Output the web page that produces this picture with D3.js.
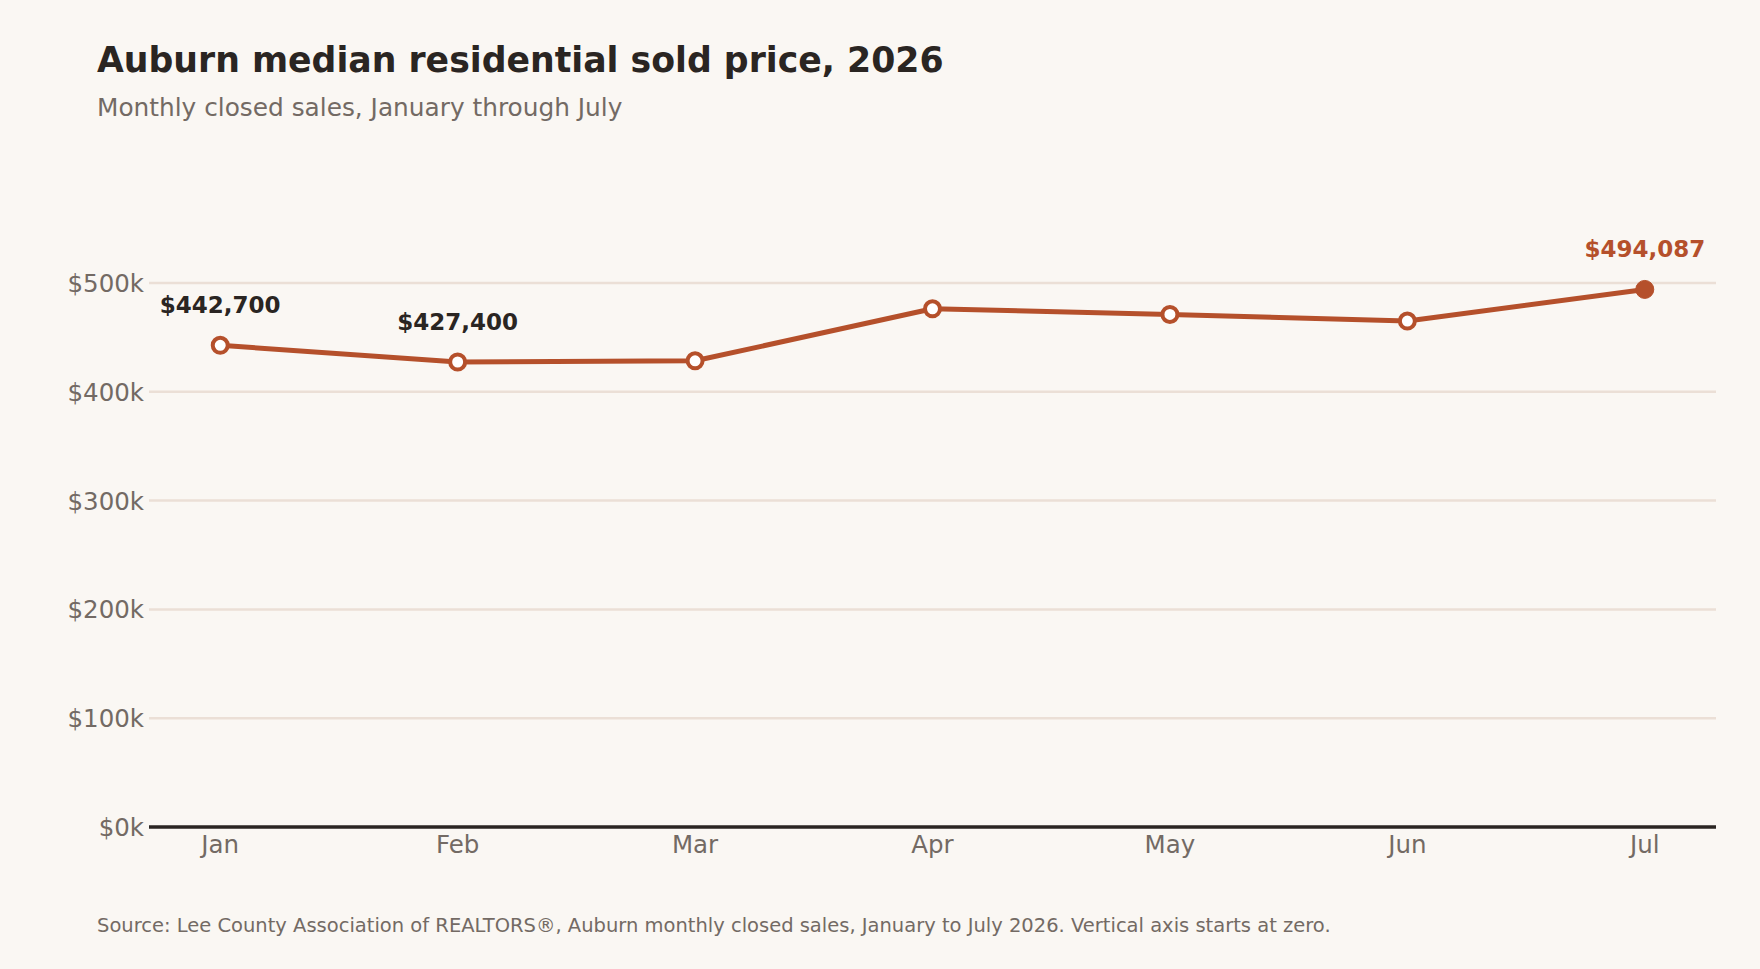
<!DOCTYPE html>
<html><head><meta charset="utf-8">
<script src="https://cdn.jsdelivr.net/npm/d3@7"></script>
<style>body{margin:0;background:#faf7f3;}svg{display:block;font-family:"DejaVu Sans",sans-serif;}</style>
</head><body><svg id="c" width="1760" height="969"></svg>
<script>
const months = ["Jan","Feb","Mar","Apr","May","Jun","Jul"];
const prices = [442700, 427400, 428500, 476300, 471100, 465000, 494087];
const yTicks = [0,100000,200000,300000,400000,500000];
const labelled = {0:"$442,700",1:"$427,400",6:"$494,087"};

const svg = d3.select("#c");
svg.append("rect").attr("width",1760).attr("height",969).attr("fill","#faf7f3");
const L=149,R=1716,Y0=827,Y500=283;
const x = d3.scalePoint().domain(months).range([L,R]).padding(0.3);
const y = d3.scaleLinear().domain([0,500000]).range([Y0,Y500]);
const line="#b5502b", grey="#736a64";

svg.append("text").attr("x",97).attr("y",72).attr("font-size",34.7).attr("font-weight","bold").attr("fill","#2a2522").text("Auburn median residential sold price, 2026");
svg.append("text").attr("x",97).attr("y",116).attr("font-size",24.8).attr("fill",grey).text("Monthly closed sales, January through July");

const g=svg.append("g");
g.selectAll("line.grid").data(yTicks.filter(d=>d>0)).join("line")
 .attr("x1",L).attr("x2",R).attr("y1",d=>y(d)).attr("y2",d=>y(d)).attr("stroke","#ebdfd6").attr("stroke-width",2.5);
g.selectAll("text.yt").data(yTicks).join("text")
 .attr("x",144).attr("y",d=>y(d)+9).attr("text-anchor","end").attr("font-size",24.5).attr("fill",grey)
 .text(d=>"$"+(d/1000)+"k");
g.append("line").attr("x1",L).attr("x2",R).attr("y1",Y0).attr("y2",Y0).attr("stroke","#2a2522").attr("stroke-width",3.5);
g.selectAll("text.xt").data(months).join("text")
 .attr("x",d=>x(d)).attr("y",853).attr("text-anchor","middle").attr("font-size",24.5).attr("fill",grey).text(d=>d);

const pts=months.map((m,i)=>({m,v:prices[i],i}));
g.append("path").datum(pts).attr("fill","none").attr("stroke",line).attr("stroke-width",5).attr("stroke-linejoin","round")
 .attr("d",d3.line().x(d=>x(d.m)).y(d=>y(d.v)));
g.selectAll("circle").data(pts).join("circle")
 .attr("cx",d=>x(d.m)).attr("cy",d=>y(d.v)).attr("r",d=>d.i===6?9:7.5)
 .attr("fill",d=>d.i===6?line:"#ffffff").attr("stroke",line).attr("stroke-width",d=>d.i===6?1:4);
g.selectAll("text.lab").data(pts.filter(d=>labelled[d.i])).join("text")
 .attr("x",d=>x(d.m)).attr("y",d=>y(d.v)-(d.i===6?32:32)).attr("text-anchor","middle")
 .attr("font-size",23).attr("font-weight","bold").attr("fill",d=>d.i===6?line:"#2a2522").text(d=>labelled[d.i]);

svg.append("text").attr("x",97).attr("y",932).attr("font-size",19.5).attr("fill",grey)
 .text("Source: Lee County Association of REALTORS®, Auburn monthly closed sales, January to July 2026. Vertical axis starts at zero.");
</script></body></html>
